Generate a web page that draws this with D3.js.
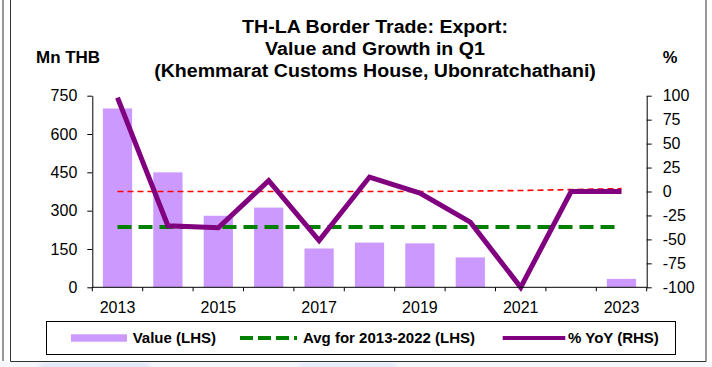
<!DOCTYPE html>
<html>
<head>
<meta charset="utf-8">
<script src="https://cdn.jsdelivr.net/npm/d3@7"></script>
<style>
  html, body { margin: 0; padding: 0; background: #ffffff; }
  svg { display: block; }
  text { font-family: "Liberation Sans", Arial, sans-serif; fill: #000; }
</style>
</head>
<body>
<svg id="chart" width="712" height="367"></svg>
<script>
// Q1 export value through Khemmarat customs house, Mn THB
const years = [2013, 2014, 2015, 2016, 2017, 2018, 2019, 2020, 2021, 2022, 2023];
const values = [700, 450, 280, 312, 152, 175, 172, 117, 0, 0, 33];
// year-on-year growth, %
const yoy = [98, -35.7, -37.8, 11.4, -51.3, 15.1, -1.7, -32.0, -100, 0, 0];
// thin red reference line on the right-hand scale
const refLine = [0, 0, 0, 0, 0, 0, 0, 0.5, 1, 2, 3];
const leftTicks = [0, 150, 300, 450, 600, 750];
const rightTicks = [-100, -75, -50, -25, 0, 25, 50, 75, 100];
const yearLabels = [2013, 2015, 2017, 2019, 2021, 2023];
const avgYears = [2013, 2022];

const svg = d3.select("#chart");
const W = 712, H = 367;

// page strip under the chart frame
svg.append("rect").attr("x", 0).attr("y", 362).attr("width", W).attr("height", 5).attr("fill", "#f4f6fb");
const defs = svg.append("defs");
defs.append("filter").attr("id", "soft").append("feGaussianBlur").attr("stdDeviation", 2);
svg.append("rect").attr("x", 40).attr("y", 363).attr("width", 110).attr("height", 6).attr("fill", "#dfe6f7").attr("filter", "url(#soft)");
svg.append("rect").attr("x", 300).attr("y", 363).attr("width", 95).attr("height", 6).attr("fill", "#e3e9f7").attr("filter", "url(#soft)");

// outer frames
svg.append("line").attr("x1", 3).attr("x2", 3).attr("y1", 0).attr("y2", 361).attr("stroke", "#333").attr("stroke-width", 1);
svg.append("path").attr("d", "M10.5,0V361.5H706V0").attr("fill", "none").attr("stroke", "#333").attr("stroke-width", 1);

const plot = { left: 92.3, right: 646.7, top: 95.7, bottom: 287.3 };

const x = d3.scaleBand().domain(years).range([plot.left, plot.right]).paddingInner(0.42).paddingOuter(0.21);
const yL = d3.scaleLinear().domain([0, 750]).range([plot.bottom, plot.top]);
const yR = d3.scaleLinear().domain([-100, 100]).range([plot.bottom, plot.top]);
const cx = d => x(d) + x.bandwidth() / 2;

// bars
svg.append("g").selectAll("rect").data(years).join("rect")
  .attr("x", d => x(d))
  .attr("width", x.bandwidth())
  .attr("y", (d, i) => yL(values[i]))
  .attr("height", (d, i) => yL(0) - yL(values[i]))
  .attr("fill", "#cc99ff");

// red reference line
svg.append("path")
  .datum(years)
  .attr("d", d3.line().x(d => cx(d)).y((d, i) => yR(refLine[i])))
  .attr("fill", "none").attr("stroke", "#ff0000").attr("stroke-width", 1.6)
  .attr("stroke-dasharray", "6,4");

// average value 2013-2022
const avgVals = years.map((y, i) => ({ y, v: values[i] })).filter(d => d.y >= avgYears[0] && d.y <= avgYears[1]).map(d => d.v);
const avg = d3.mean(avgVals);
svg.append("path")
  .datum(years)
  .attr("d", d3.line().x(d => cx(d)).y(() => yL(avg)))
  .attr("fill", "none").attr("stroke", "#008000").attr("stroke-width", 4)
  .attr("stroke-dasharray", "14,7");

// growth line
svg.append("path")
  .datum(years)
  .attr("d", d3.line().x(d => cx(d)).y((d, i) => yR(yoy[i])))
  .attr("fill", "none").attr("stroke", "#800080").attr("stroke-width", 5)
  .attr("stroke-linejoin", "miter");

// left axis
const plain = d => String(d);
const gL = svg.append("g").attr("transform", `translate(${plot.left},0)`)
  .call(d3.axisLeft(yL).tickValues(leftTicks).tickFormat(plain).tickSize(5).tickSizeOuter(0).tickPadding(10));
// right axis
const gR = svg.append("g").attr("transform", `translate(${plot.right},0)`)
  .call(d3.axisRight(yR).tickValues(rightTicks).tickFormat(plain).tickSize(5).tickSizeOuter(0).tickPadding(11));
[gL, gR].forEach(g => {
  g.select(".domain").attr("stroke", "#000").attr("stroke-width", 1);
  g.selectAll(".tick line").attr("stroke", "#000");
  g.selectAll(".tick text").attr("font-size", 16).attr("font-family", "Liberation Sans, Arial, sans-serif").attr("fill", "#000");
});

// category axis: ticks at band edges, labels on alternate years
const gX = svg.append("g");
gX.append("line").attr("x1", plot.left).attr("x2", plot.right).attr("y1", plot.bottom).attr("y2", plot.bottom).attr("stroke", "#000");
const edges = years.map(d => x(d) - x.step() * x.paddingInner() / 2).concat([plot.right]);
gX.selectAll("line.tk").data(edges).join("line").attr("class", "tk")
  .attr("x1", d => d).attr("x2", d => d).attr("y1", plot.bottom).attr("y2", plot.bottom + 4).attr("stroke", "#000");
gX.selectAll("text").data(yearLabels).join("text")
  .attr("x", d => cx(d)).attr("y", 313).attr("text-anchor", "middle").attr("font-size", 16)
  .text(d => d);

// titles
const title = ["TH-LA Border Trade: Export:", "Value and Growth in Q1", "(Khemmarat Customs House, Ubonratchathani)"];
const tg = svg.append("g").attr("transform", "translate(375,0) scale(1.12,1)");
tg.selectAll("text").data(title).join("text")
  .attr("x", 0).attr("y", (d, i) => 32.7 + i * 22)
  .attr("text-anchor", "middle").attr("font-size", 17.5).attr("font-weight", "bold")
  .text(d => d);

svg.append("text").attr("x", 36).attr("y", 62.7).attr("font-size", 16.5).attr("font-weight", "bold")
  .attr("transform", "translate(36,0) scale(1.03,1) translate(-36,0)").text("Mn THB");
svg.append("text").attr("x", 670).attr("y", 63.3).attr("text-anchor", "middle").attr("font-size", 16.5).attr("font-weight", "bold").text("%");

// legend
const lg = svg.append("g");
lg.append("rect").attr("x", 46.5).attr("y", 321.5).attr("width", 629).attr("height", 33)
  .attr("fill", "#fff").attr("stroke", "#000").attr("stroke-width", 1);
lg.append("rect").attr("x", 71).attr("y", 334.3).attr("width", 56).attr("height", 7.4).attr("fill", "#cc99ff");
lg.append("line").attr("x1", 240).attr("x2", 297).attr("y1", 338).attr("y2", 338)
  .attr("stroke", "#008000").attr("stroke-width", 4).attr("stroke-dasharray", "13,5");
lg.append("line").attr("x1", 502.7).attr("x2", 565.3).attr("y1", 338).attr("y2", 338)
  .attr("stroke", "#800080").attr("stroke-width", 4);
const legendText = [
  { x: 132.7, t: "Value (LHS)" },
  { x: 303, t: "Avg for 2013-2022 (LHS)" },
  { x: 568, t: "% YoY (RHS)" }
];
lg.selectAll("text").data(legendText).join("text")
  .attr("x", d => d.x).attr("y", 342.8).attr("font-size", 15).attr("font-weight", "bold")
  .text(d => d.t);
</script>
</body>
</html>
